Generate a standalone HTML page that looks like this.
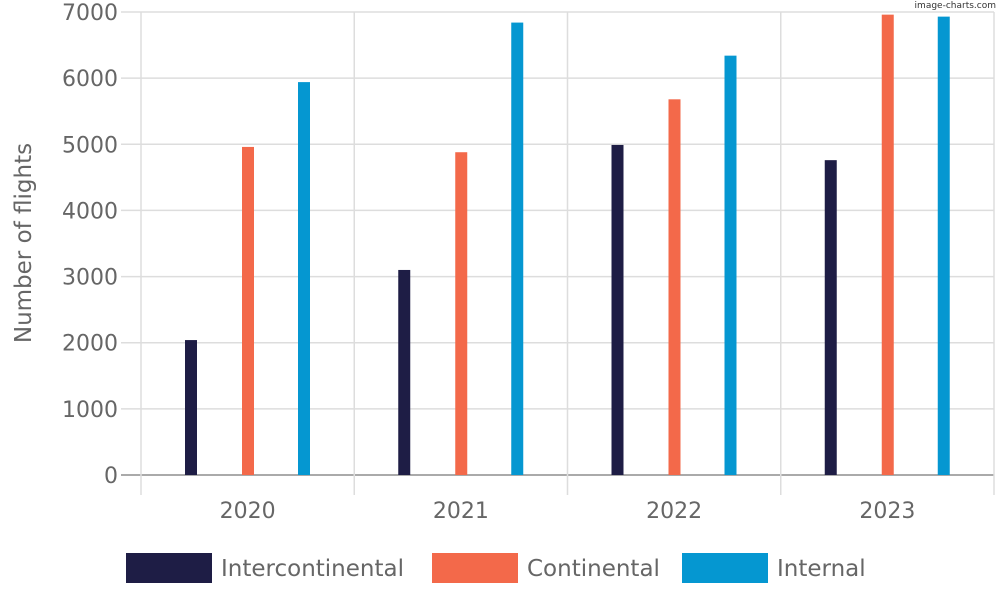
<!DOCTYPE html>
<html><head><meta charset="utf-8"><style>
html,body{margin:0;padding:0;background:#fff;}
svg{display:block;font-family:"DejaVu Sans","Liberation Sans",sans-serif;}
</style></head><body>
<svg id="chart" width="1000" height="600" viewBox="0 0 1000 600" xmlns="http://www.w3.org/2000/svg">
<text x="996" y="8" font-size="9" fill="#333" text-anchor="end">image-charts.com</text>
<g id="grid"></g><g id="bars"></g><g id="labels"></g>
<text transform="translate(31,243) rotate(-90)" font-size="23" fill="#666" text-anchor="middle">Number of flights</text>
<g>
<rect x="126" y="553" width="86" height="30" fill="#1e1d45"/>
<text x="221" y="576" font-size="23" fill="#666">Intercontinental</text>
<rect x="432" y="553" width="86" height="30" fill="#f3694a"/>
<text x="527" y="576" font-size="23" fill="#666">Continental</text>
<rect x="682" y="553" width="86" height="30" fill="#0597d1"/>
<text x="777" y="576" font-size="23" fill="#666">Internal</text>
</g>
</svg>
<script>
const categories = ["2020","2021","2022","2023"];
const intercontinental = [2040,3100,4990,4760];
const continental = [4960,4880,5680,6960];
const internal = [5940,6840,6340,6930];
const yTicks = [0,1000,2000,3000,4000,5000,6000,7000];

const NS="http://www.w3.org/2000/svg";
const L=141,R=994,T=12,B=475,YMAX=7000;
const y=v=>B-(v/YMAX)*(B-T);
const gw=(R-L)/categories.length;
const x=i=>L+i*gw;
function mk(tag,attrs,parent){const e=document.createElementNS(NS,tag);for(const k in attrs)e.setAttribute(k,attrs[k]);parent.appendChild(e);return e;}
const grid=document.getElementById('grid'),bars=document.getElementById('bars'),labels=document.getElementById('labels');
yTicks.forEach(t=>{
  const ln=mk('line',{x1:121,x2:R,y1:y(t),y2:y(t),stroke:t===0?'#aaa':'#ddd','stroke-width':t===0?2:1.5},grid);
  
  
  const tx=mk('text',{x:118,y:y(t)+8,'font-size':22,fill:'#666','text-anchor':'end'},labels);
  tx.textContent=t;
  
  
});
for(let i=0;i<=categories.length;i++){
  const ln=mk('line',{x1:x(i),x2:x(i),y1:T,y2:495,stroke:'#ddd','stroke-width':1.5},grid);
  
  
}
const series=[[intercontinental,'#1e1d45','intercontinental',50],[continental,'#f3694a','continental',107],[internal,'#0597d1','internal',163]];
categories.forEach((c,i)=>{
  series.forEach(([vals,col,name,off])=>{
    const r=mk('rect',{x:x(i)+off-6,y:y(vals[i]),width:12,height:B-y(vals[i]),fill:col},bars);
    
    
  });
  const tx=mk('text',{x:x(i)+gw/2,y:518,'font-size':22,fill:'#666','text-anchor':'middle'},labels);
  tx.textContent=c;
  
  
});
</script>
</body></html>
